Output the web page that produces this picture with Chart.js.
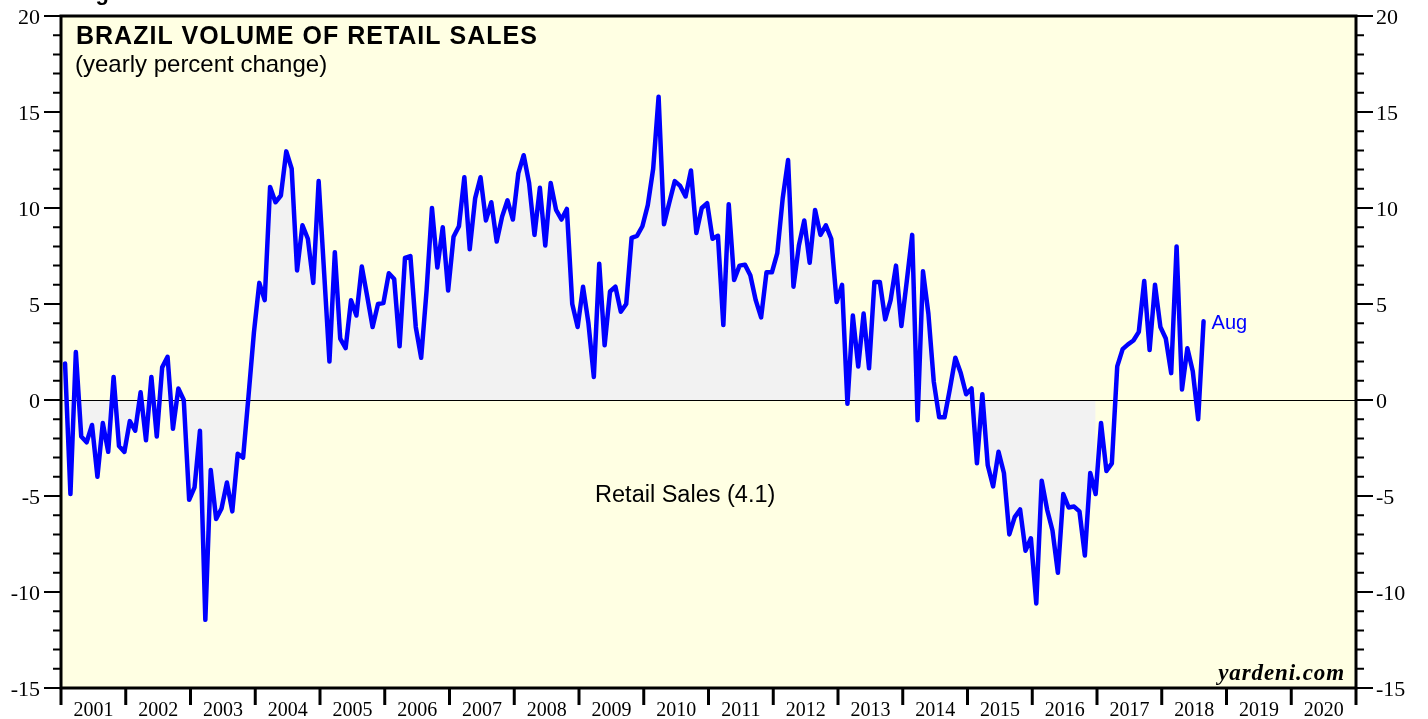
<!DOCTYPE html>
<html>
<head>
<meta charset="utf-8">
<script src="https://cdn.jsdelivr.net/npm/chart.js@4.4.1/dist/chart.umd.min.js"></script>
<style>
  html, body { margin: 0; padding: 0; background: #fff; }
  canvas { display: block; }
</style>
</head>
<body>
<canvas id="myChart" width="1428" height="719"></canvas>
<script>
// Brazil retail sales volume, yearly % change, monthly Jan 2001 - Aug 2018
const startYear = 2001;
const shadeMonths = 192; // grey shading stops at end of 2016

const retailSales = [
  1.9, -4.9, 2.5, -1.9, -2.2, -1.3, -4.0, -1.2, -2.7, 1.2, -2.4, -2.7,       // 2001
  -1.1, -1.6, 0.4, -2.1, 1.2, -1.9, 1.7, 2.25, -1.5, 0.6, 0.0, -5.2,         // 2002
  -4.55, -1.6, -11.45, -3.65, -6.2, -5.65, -4.3, -5.8, -2.8, -3.0, 0.2, 3.5, // 2003
  6.1, 5.2, 11.1, 10.3, 10.65, 12.95, 12.05, 6.75, 9.1, 8.4, 6.1, 11.4,      // 2004
  6.7, 2.0, 7.7, 3.2, 2.7, 5.2, 4.4, 6.95, 5.4, 3.8, 5.0, 5.05,              // 2005
  6.6, 6.3, 2.8, 7.4, 7.5, 3.8, 2.2, 5.7, 10.0, 6.9, 9.0, 5.7,               // 2006
  8.5, 9.05, 11.6, 7.85, 10.5, 11.6, 9.35, 10.3, 8.25, 9.55, 10.4, 9.4,      // 2007
  11.8, 12.75, 11.3, 8.6, 11.05, 8.05, 11.3, 9.9, 9.4, 9.95, 5.0, 3.8,       // 2008
  5.9, 4.0, 1.2, 7.1, 2.85, 5.65, 5.9, 4.6, 5.0, 8.45, 8.55, 9.05,           // 2009
  10.15, 12.05, 15.8, 9.15, 10.3, 11.4, 11.15, 10.6, 11.95, 8.7, 10.0, 10.25, // 2010
  8.4, 8.55, 3.9, 10.2, 6.25, 7.0, 7.05, 6.5, 5.2, 4.3, 6.65, 6.65,          // 2011
  7.65, 10.5, 12.5, 5.9, 8.05, 9.35, 7.15, 9.9, 8.6, 9.1, 8.4, 5.1,          // 2012
  6.0, -0.2, 4.4, 1.75, 4.5, 1.65, 6.15, 6.15, 4.2, 5.2, 7.0, 3.85,          // 2013
  6.2, 8.6, -1.05, 6.7, 4.5, 0.95, -0.9, -0.9, 0.6, 2.2, 1.4, 0.3,           // 2014
  0.6, -3.3, 0.3, -3.4, -4.5, -2.7, -3.8, -7.0, -6.1, -5.7, -7.85, -7.2,     // 2015
  -10.6, -4.2, -5.7, -6.8, -9.0, -4.9, -5.6, -5.55, -5.8, -8.1, -3.8, -4.9,  // 2016
  -1.2, -3.7, -3.3, 1.75, 2.65, 2.9, 3.1, 3.55, 6.2, 2.6, 6.0, 3.8,          // 2017
  3.2, 1.4, 8.0, 0.55, 2.7, 1.5, -1.0, 4.1                                   // 2018
];

const yearLabels = ['2001', '2002', '2003', '2004', '2005', '2006', '2007', '2008', '2009', '2010',
  '2011', '2012', '2013', '2014', '2015', '2016', '2017', '2018', '2019', '2020'];
const yTicks = [20, 15, 10, 5, 0, -5, -10, -15];

const titleText = 'BRAZIL VOLUME OF RETAIL SALES';
const subtitleText = '(yearly percent change)';
const seriesLabel = 'Retail Sales (4.1)';
const lastLabel = 'Aug';

const points = retailSales.map((v, i) => ({ x: startYear + (i + 0.75) / 12, y: v }));
const shaded = points.slice(0, shadeMonths);

const SERIF = '"Liberation Serif", "Times New Roman", serif';
const SANS = '"Liberation Sans", Arial, Helvetica, sans-serif';

const decor = {
  id: 'decor',
  beforeDraw(chart) {
    const { ctx, chartArea: a } = chart;
    ctx.save();
    ctx.fillStyle = '#ffffe3';
    ctx.fillRect(a.left, a.top, a.right - a.left, a.bottom - a.top);
    ctx.restore();
  },
  beforeDatasetDraw(chart, args) {
    if (args.index !== 0) return;
    // zero line sits over the shading, under the blue line
    const { ctx, chartArea: a, scales: { y } } = chart;
    const y0 = Math.round(y.getPixelForValue(0)) + 0.5;
    ctx.save();
    ctx.strokeStyle = '#000';
    ctx.lineWidth = 1.2;
    ctx.beginPath();
    ctx.moveTo(a.left, y0);
    ctx.lineTo(a.right, y0);
    ctx.stroke();
    ctx.restore();
  },
  afterDraw(chart) {
    const { ctx, chartArea: a, scales: { x, y } } = chart;
    ctx.save();

    // frame
    ctx.strokeStyle = '#000';
    ctx.lineWidth = 3;
    ctx.strokeRect(a.left, a.top, a.right - a.left, a.bottom - a.top);

    // y ticks, both sides
    ctx.lineWidth = 2;
    for (let v = -15; v <= 20; v++) {
      const py = y.getPixelForValue(v);
      const len = v % 5 === 0 ? 17 : 8;
      ctx.beginPath();
      ctx.moveTo(a.left - len, py);
      ctx.lineTo(a.left, py);
      ctx.moveTo(a.right, py);
      ctx.lineTo(a.right + len, py);
      ctx.stroke();
    }
    ctx.fillStyle = '#000';
    ctx.font = '22px ' + SERIF;
    ctx.textBaseline = 'middle';
    yTicks.forEach(v => {
      const py = y.getPixelForValue(v) + 2;
      ctx.textAlign = 'right';
      ctx.fillText(String(v), 40, py);
      ctx.textAlign = 'left';
      ctx.fillText(String(v), a.right + 20, py);
    });

    // x ticks at year boundaries, labels centred in each year
    ctx.lineWidth = 3;
    for (let k = 0; k <= yearLabels.length; k++) {
      const px = x.getPixelForValue(startYear + k);
      ctx.beginPath();
      ctx.moveTo(px, a.bottom);
      ctx.lineTo(px, a.bottom + 17);
      ctx.stroke();
    }
    ctx.font = '20px ' + SERIF;
    ctx.textAlign = 'center';
    ctx.textBaseline = 'alphabetic';
    yearLabels.forEach((lab, k) => {
      ctx.fillText(lab, x.getPixelForValue(startYear + k + 0.5), 716);
    });

    // titles
    ctx.textAlign = 'left';
    ctx.font = 'bold 25px ' + SANS;
    ctx.letterSpacing = '1px';
    ctx.fillText(titleText, 76, 44);
    ctx.letterSpacing = '0px';
    ctx.font = 'bold 22px ' + SANS;
    ctx.fillText('Figure 3.', 76, 0);
    ctx.font = '24px ' + SANS;
    ctx.fillText(subtitleText, 75, 72);

    // series label
    ctx.font = '23.5px ' + SANS;
    ctx.textAlign = 'center';
    ctx.textBaseline = 'middle';
    ctx.fillText(seriesLabel, x.getPixelForValue(2010.64), y.getPixelForValue(-5));

    // last month label
    const last = points[points.length - 1];
    ctx.fillStyle = '#0000ff';
    ctx.textAlign = 'left';
    ctx.font = '20px ' + SANS;
    ctx.fillText(lastLabel, x.getPixelForValue(last.x) + 8, y.getPixelForValue(last.y) + 2);

    // source
    ctx.fillStyle = '#000';
    ctx.textAlign = 'right';
    ctx.textBaseline = 'alphabetic';
    ctx.font = 'italic bold 23px ' + SERIF;
    ctx.letterSpacing = '0.9px';
    ctx.fillText('yardeni.com', a.right - 11, a.bottom - 8);
    ctx.restore();
  }
};

new Chart(document.getElementById('myChart'), {
  type: 'line',
  data: {
    datasets: [
      {
        label: seriesLabel,
        data: points,
        borderColor: '#0000ff',
        borderWidth: 4.5,
        borderJoinStyle: 'round',
        borderCapStyle: 'round',
        pointRadius: 0,
        tension: 0,
        fill: false,
        order: 0
      },
      {
        label: 'shade',
        data: shaded,
        borderWidth: 0,
        borderColor: 'rgba(0,0,0,0)',
        backgroundColor: '#f2f2f2',
        pointRadius: 0,
        tension: 0,
        fill: 'origin',
        order: 1
      }
    ]
  },
  options: {
    responsive: false,
    maintainAspectRatio: false,
    devicePixelRatio: 1,
    animation: false,
    events: [],
    layout: { padding: { left: 61, right: 72, top: 16, bottom: 31 } },
    plugins: { legend: { display: false }, tooltip: { enabled: false } },
    scales: {
      x: { type: 'linear', min: 2001, max: 2021, display: false },
      y: { min: -15, max: 20, display: false }
    }
  },
  plugins: [decor]
});
</script>
</body>
</html>
